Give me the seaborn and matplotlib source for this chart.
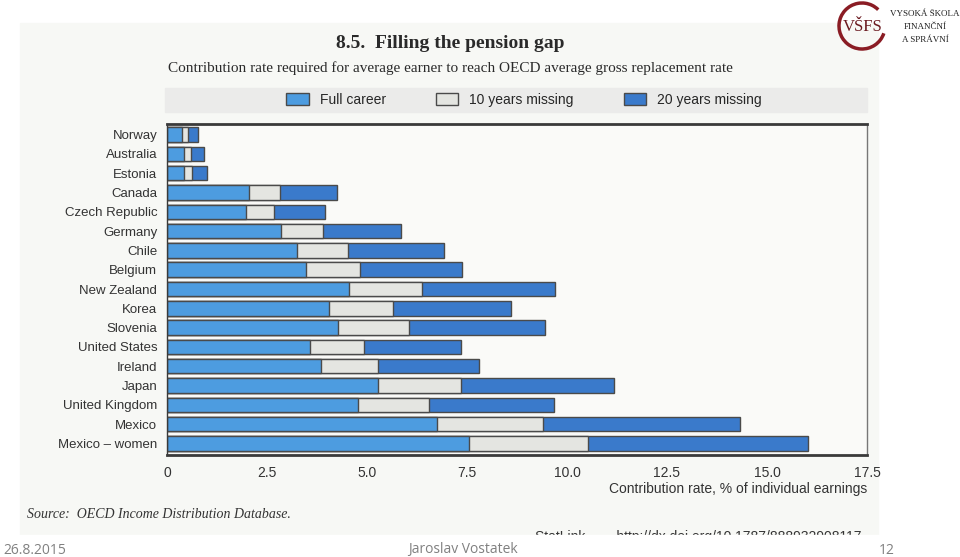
import matplotlib
matplotlib.use("Agg")
import matplotlib.pyplot as plt
from matplotlib.patches import Patch, Rectangle, Arc
import seaborn as sns

# values (contribution rate, % of earnings)
countries = ["Norway", "Australia", "Estonia", "Canada", "Czech Republic",
             "Germany", "Chile", "Belgium", "New Zealand", "Korea", "Slovenia",
             "United States", "Ireland", "Japan", "United Kingdom", "Mexico",
             "Mexico \u2013 women"]
full_career = [0.37, 0.43, 0.43, 2.05, 1.97, 2.84, 3.25, 3.47, 4.56, 4.06,
               4.28, 3.57, 3.84, 5.27, 4.77, 6.74, 7.54]
ten_missing = [0.52, 0.60, 0.62, 2.83, 2.68, 3.91, 4.53, 4.82, 6.38, 5.64,
               6.06, 4.93, 5.27, 7.35, 6.56, 9.41, 10.52]
twenty_missing = [0.78, 0.93, 1.00, 4.24, 3.95, 5.84, 6.93, 7.37, 9.70, 8.60,
                  9.45, 7.35, 7.79, 11.18, 9.68, 14.32, 16.02]
xticks = [0, 2.5, 5.0, 7.5, 10.0, 12.5, 15.0, 17.5]
xtick_labels = ["0", "2.5", "5.0", "7.5", "10.0", "12.5", "15.0", "17.5"]
series_names = ["Full career", "10 years missing", "20 years missing"]

C_FULL = "#4d9ce0"
C_TEN = "#e4e5e1"
C_TWENTY = "#3a7acb"
EDGE = "#4a4a4a"
NARROW = ["Liberation Sans", "DejaVu Sans"]
SERIF = ["Liberation Serif", "DejaVu Serif"]

sns.set_style("white")
plt.rcParams["font.family"] = ["Liberation Sans", "DejaVu Sans"]

fig = plt.figure(figsize=(9.6, 5.57), dpi=100)
W, H = 960, 557


def fx(px):
    return px / W


def fy(py):
    return 1 - py / H


# scanned page background
fig.patches.append(Rectangle((fx(20), fy(535)), fx(858), 512 / H,
                             transform=fig.transFigure, color="#f7f8f5", zorder=0))
# legend band
fig.patches.append(Rectangle((fx(165), fy(112)), fx(702), 24 / H,
                             transform=fig.transFigure, color="#ebebea", zorder=1))

ax = fig.add_axes([fx(167), fy(455), fx(700), 331 / H])
ax.set_zorder(3)
ax.set_facecolor("#fafaf8")

# draw longest first so the shorter scenarios sit on top
for vals, col in [(twenty_missing, C_TWENTY), (ten_missing, C_TEN), (full_career, C_FULL)]:
    sns.barplot(x=vals, y=countries, orient="h", color=col, saturation=1,
                width=0.75, edgecolor=EDGE, linewidth=1, ax=ax)

ax.set_xlim(0, 17.5)
ax.set_ylim(len(countries) - 0.4, -0.55)
ax.set_xticks(xticks)
ax.set_xticklabels(xtick_labels, fontsize=10, family=NARROW, color="#333333")
ax.tick_params(axis="x", direction="in", length=3, pad=8, color=EDGE)
ax.tick_params(axis="y", length=0, pad=7)
for lab in ax.get_yticklabels():
    lab.set_family(NARROW)
    lab.set_fontsize(9.5)
    lab.set_color("#333333")
ax.set_yticks([i + 0.5 for i in range(len(countries) - 1)], minor=True)
ax.tick_params(axis="y", which="minor", direction="in", length=7, color=EDGE, width=1)
ax.set_xlabel("")
ax.set_ylabel("")

for side in ["top", "bottom", "left"]:
    ax.spines[side].set_color("#3a3a3a")
ax.spines["top"].set_linewidth(2)
ax.spines["bottom"].set_linewidth(2)
ax.spines["left"].set_linewidth(1)
ax.spines["right"].set_color("#777777")
ax.spines["right"].set_linewidth(1)

# legend
handles = [Patch(facecolor=c, edgecolor=EDGE, linewidth=1)
           for c in [C_FULL, C_TEN, C_TWENTY]]
leg = fig.legend(handles, series_names, loc="center", bbox_to_anchor=(fx(524), fy(100)),
                 ncol=3, frameon=False, columnspacing=3.6, handlelength=1.6,
                 handleheight=1.0, handletextpad=0.8,
                 prop={"family": NARROW, "size": 10})
leg.set_zorder(4)

# titles
fig.text(fx(450), fy(44), "8.5.  Filling the pension gap", ha="center", va="center",
         fontsize=14, fontweight="bold", family=SERIF, color="#2a2a2a", zorder=4)
fig.text(fx(450), fy(68), "Contribution rate required for average earner to reach "
         "OECD average gross replacement rate", ha="center", va="center",
         fontsize=11, family=SERIF, color="#2a2a2a", zorder=4)

fig.text(fx(867), fy(489), "Contribution rate, % of individual earnings", ha="right",
         va="center", fontsize=10, family=NARROW, color="#333333", zorder=4)
fig.text(fx(27), fy(514), "Source:  OECD Income Distribution Database.", ha="left",
         va="center", fontsize=10, style="italic", family=SERIF, color="#333333",
         zorder=4)

# StatLink line cut off by the scan edge
fig.text(fx(535), fy(537), "StatLink        http://dx.doi.org/10.1787/888932908117",
         ha="left", va="center", fontsize=10, family=NARROW, color="#333333", zorder=4)
fig.patches.append(Rectangle((0, 0), 1, fy(535), transform=fig.transFigure,
                             color="white", zorder=5))

# slide footer
footer = dict(fontsize=10, color="#808080", family=["Open Sans", "DejaVu Sans"], va="center")
fig.text(fx(3), fy(550), "26.8.2015", ha="left", zorder=6, **footer)
fig.text(fx(463), fy(550), "Jaroslav Vostatek", ha="center", zorder=6, **footer)
fig.text(fx(895), fy(550), "12", ha="right", zorder=6, **footer)

# school logo
fig.patches.append(Arc((fx(862), fy(26)), fx(46), 46 / H, theta1=60, theta2=330,
                       transform=fig.transFigure, color="#8a1c24", linewidth=2.5, zorder=6))
fig.text(fx(863), fy(27), "VŠFS", ha="center", va="center", fontsize=12,
         family=SERIF, color="#6b1a20", zorder=7)
logo = dict(fontsize=6.5, family=SERIF, color="#222222", ha="center", va="center", zorder=7)
fig.text(fx(925), fy(14), "VYSOKÁ ŠKOLA", **logo)
fig.text(fx(925), fy(27), "FINANČNÍ", **logo)
fig.text(fx(925), fy(40), "A SPRÁVNÍ", **logo)

fig.savefig("out.png", dpi=100)
